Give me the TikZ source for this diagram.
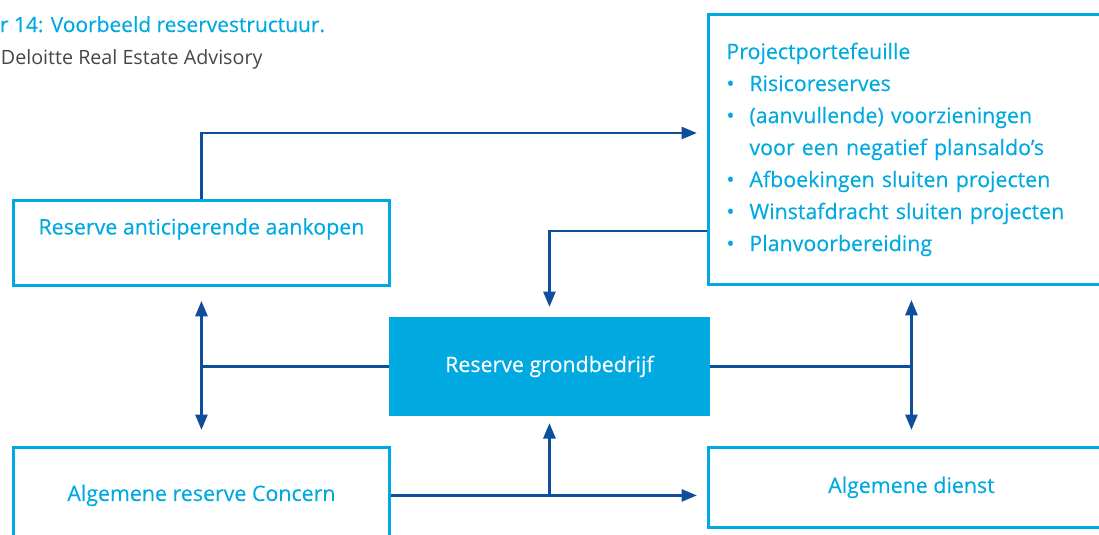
\documentclass[tikz,border=0pt]{standalone}
\usepackage{fontspec}
\setmainfont{Open Sans}
\newfontfamily\dlfont{Open Sans}[FakeBold=0.3]
\usetikzlibrary{arrows.meta,positioning}
\definecolor{dlblue}{RGB}{0,169,224}
\definecolor{dldark}{RGB}{14,78,154}
\definecolor{dlgray}{RGB}{70,70,70}
\newcommand{\bul}{\makebox[0.575cm][l]{•}}

\begin{document}
\begin{tikzpicture}
[
x=0.025cm, y=-0.025cm,
>={Triangle[length=11pt,width=8.5pt]},
box/.style={rectangle, draw=dlblue, line width=2pt, text=dlblue, font=\dlfont\fontsize{15.2pt}{22.76pt}\selectfont, anchor=north west, inner sep=0pt},
fillbox/.style={box, fill=dlblue, text=white},
flow/.style={draw=dldark, line width=2pt},
caption/.style={anchor=base west, font=\fontsize{14pt}{17pt}\selectfont}
]
\useasboundingbox (0,0) rectangle (1099,534);

%Nodes
\node[caption, text=dlblue, font=\dlfont\fontsize{14.9pt}{17pt}\selectfont]
                             (title)   at (-5,32)  {r 14: Voorbeeld reservestructuur.};
\node[caption, text=dlgray]  (source)  at (-4,64)  {Deloitte Real Estate Advisory};
\node[box, minimum width=9.4cm, minimum height=2.125cm, text height=10pt, text depth=22pt]
                             (anticip) at (12,199) {Reserve anticiperende aankopen};
\node[fillbox, minimum width=7.95cm, minimum height=2.4cm]
                             (grond)   at (389,317) {Reserve grondbedrijf};
\node[box, minimum width=9.4cm, minimum height=2.4cm]
                             (concern) at (12,446) {Algemene reserve Concern};
\node[box, minimum width=10.15cm, minimum height=2cm]
                             (dienst)  at (707,446) {Algemene dienst};
\node[box, minimum width=10.15cm, minimum height=6.75cm, inner xsep=0.45cm, text width=9.25cm, align=left]
                             (project) at (707,13) {Projectportefeuille\\
\bul Risicoreserves\\
\bul (aanvullende) voorzieningen\\
\hspace*{0.575cm}voor een negatief plansaldo’s\\
\bul Afboekingen sluiten projecten\\
\bul Winstafdracht sluiten projecten\\
\bul Planvoorbereiding};
\coordinate (topbend) at (200,133);
\coordinate (pgbend)  at (548,231);

%Lines
\draw[flow, ->, shorten >=0.25cm] (anticip.north) |- (project.west |- topbend);
\draw[flow, ->, shorten >=0.25cm] (project.west |- pgbend) -| (grond.north);
\draw[flow, <->, shorten <=0.35cm, shorten >=0.4cm] (anticip.south) -- (concern.north);
\draw[flow] (grond.west) -- (grond.west -| anticip.south);
\draw[flow, <->, shorten <=0.35cm, shorten >=0.4cm] (project.south) -- (dienst.north);
\draw[flow] (grond.east) -- (grond.east -| project.south);
\draw[flow, ->, shorten >=0.25cm] (concern.east) -- (concern.east -| dienst.west);
\draw[flow, ->, shorten >=0.18cm] (concern.east -| grond.south) -- (grond.south);
\end{tikzpicture}
\end{document}
